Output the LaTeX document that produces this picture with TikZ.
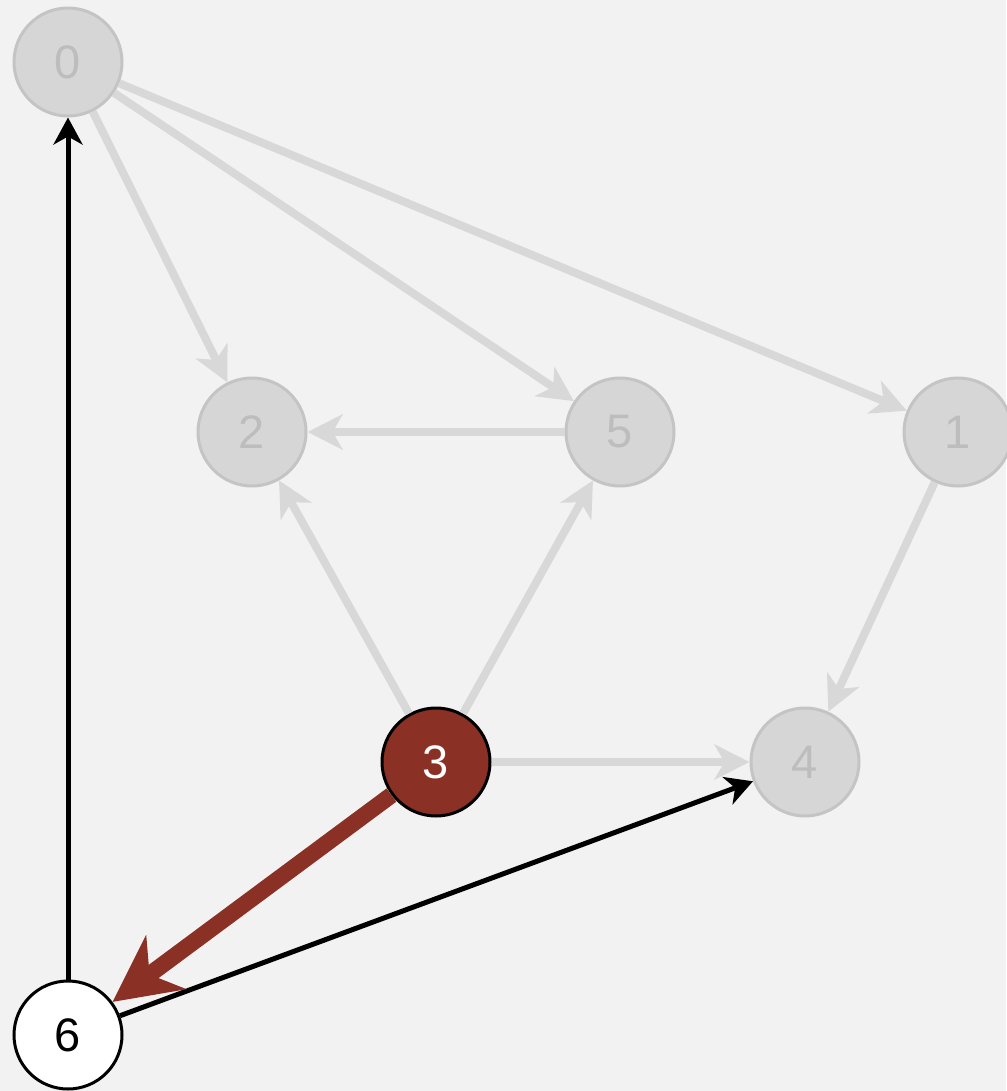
\documentclass[tikz,border=0pt]{standalone}
\usepackage{fontspec}
\setmainfont{Liberation Sans}
\usetikzlibrary{arrows.meta}
\definecolor{bgc}{HTML}{F2F2F2}
\definecolor{gfill}{HTML}{D6D6D6}
\definecolor{gdraw}{HTML}{C4C4C4}
\definecolor{gtext}{HTML}{BDBDBD}
\definecolor{gedge}{HTML}{D8D8D8}
\definecolor{redc}{HTML}{8B3025}
\tikzset{
  vtx/.style={circle,minimum size=108pt,inner sep=0pt,line width=3pt,font=\fontsize{47}{50}\selectfont},
  gvtx/.style={vtx,fill=gfill,draw=gdraw,text=gtext},
  gedgest/.style={draw=gedge,line width=8pt,-{Stealth[length=35pt,width=35pt,inset=10pt]}},
  bedgest/.style={draw=black,line width=5pt,-{Stealth[length=27pt,width=29pt,inset=8pt]}},
  redgest/.style={draw=redc,line width=16.5pt,-{Stealth[length=66pt,width=66pt,inset=20pt]}}
}
\begin{document}
\begin{tikzpicture}[x=1pt,y=-1pt]
\fill[bgc] (0,0) rectangle (1006,1091);
\useasboundingbox (0,0) rectangle (1006,1091);
\node[gvtx] (n0) at (68,62) {0};
\node[gvtx] (n2) at (252,432) {2};
\node[gvtx] (n5) at (620,432) {5};
\node[gvtx] (n1) at (958,432) {1};
\node[vtx,fill=redc,draw=black,text=white] (n3) at (436,762) {3};
\node[gvtx] (n4) at (805,762) {4};
\node[vtx,fill=white,draw=black,text=black] (n6) at (68,1035) {6};
\draw[gedgest] (n0) -- (n2);
\draw[gedgest] (n0) -- (n5);
\draw[gedgest] (n0) -- (n1);
\draw[gedgest] (n5) -- (n2);
\draw[gedgest] (n3) -- (n2);
\draw[gedgest] (n3) -- (n5);
\draw[gedgest] (n1) -- (n4);
\draw[gedgest] (n3) -- (n4);
\draw[bedgest] (n6) -- (n0);
\draw[bedgest] (n6) -- (n4);
\draw[redgest] (n3) -- (n6);
\end{tikzpicture}
\end{document}
